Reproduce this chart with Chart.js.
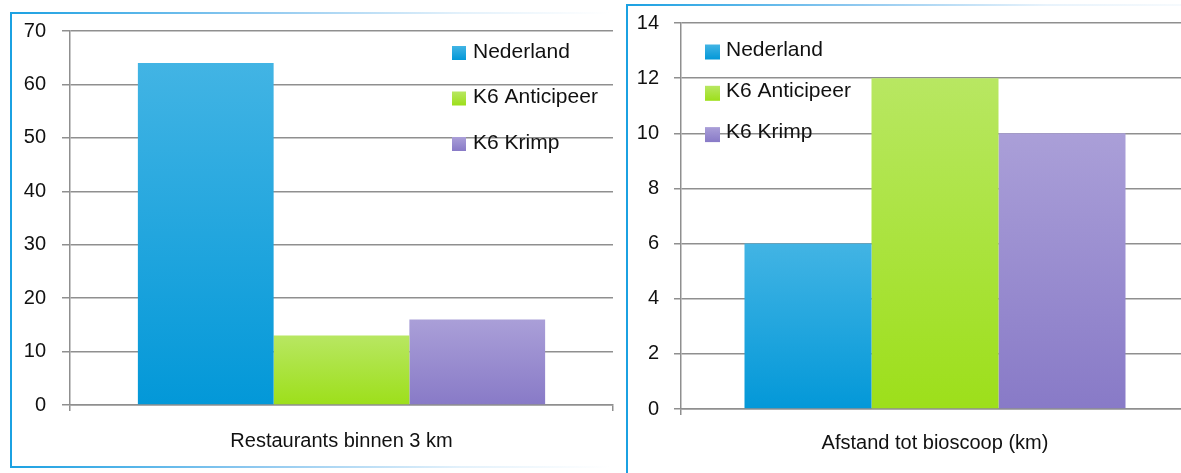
<!DOCTYPE html>
<html>
<head>
<meta charset="utf-8">
<script src="https://cdn.jsdelivr.net/npm/chart.js@4.4.1/dist/chart.umd.min.js"></script>
<style>
  html, body { margin: 0; padding: 0; background: #fff; }
  body { width: 1181px; height: 473px; overflow: hidden; position: relative; }
  canvas { position: absolute; }
  .bl { position: absolute; background: #1ba1e2; }
  .bt { position: absolute; }
</style>
</head>
<body>
<!-- panel borders -->
<div class="bl" style="left:10px; top:12px; width:2px; height:456px;"></div>
<div class="bt" style="left:10px; top:12px; width:600px; height:2px; background:linear-gradient(to right,#1ba1e2 0%,#8cc7ef 40%,#e3f1fb 75%,rgba(255,255,255,0) 100%);"></div>
<div class="bt" style="left:10px; top:466px; width:600px; height:2px; background:linear-gradient(to right,#1ba1e2 0%,#8cc7ef 40%,#e3f1fb 75%,rgba(255,255,255,0) 100%);"></div>
<div class="bl" style="left:626px; top:4px; width:2px; height:469px;"></div>
<div class="bt" style="left:626px; top:4px; width:560px; height:2px; background:linear-gradient(to right,#1ba1e2 0%,#8cc7ef 40%,#e8f3fc 75%,#f6fafd 100%);"></div>

<canvas id="left" width="608" height="452" style="left:12px; top:14px;"></canvas>
<canvas id="right" width="567" height="467" style="left:629px; top:6px;"></canvas>

<script>
// ---------- data ----------
const seriesLabels = ['Nederland', 'K6 Anticipeer', 'K6 Krimp'];
const leftCategories = ['Restaurants binnen 3 km'];
const leftValues = [64, 13, 16];
const leftTicks = [0, 10, 20, 30, 40, 50, 60, 70];
const rightCategories = ['Afstand tot bioscoop (km)'];
const rightValues = [6, 12, 10];
const rightTicks = [0, 2, 4, 6, 8, 10, 12, 14];

// ---------- styles ----------
const colorTop = ['#42b4e4', '#b8e762', '#aa9fd8'];
const colorBottom = ['#0398d8', '#9ddf1a', '#887ac7'];
const gridColor = '#8f8f8f';
const FONT = 'Liberation Sans';

Chart.defaults.font.family = FONT;
Chart.defaults.color = '#000';
Chart.defaults.animation = false;

function barGradient(idx) {
  return function (ctx) {
    const chart = ctx.chart;
    const ys = chart.scales.y;
    if (!ys || ctx.raw === undefined) return colorBottom[idx];
    const top = ys.getPixelForValue(ctx.raw);
    const base = ys.getPixelForValue(0);
    if (!isFinite(top) || !isFinite(base) || top === base) return colorBottom[idx];
    const g = chart.ctx.createLinearGradient(0, top, 0, base);
    g.addColorStop(0, colorTop[idx]);
    g.addColorStop(1, colorBottom[idx]);
    return g;
  };
}

function legendPlugin(cfg) {
  return {
    id: 'insideLegend',
    afterDatasetsDraw(chart) {
      const c = chart.ctx;
      c.save();
      c.font = cfg.fontSize + 'px "' + FONT + '"';
      c.textBaseline = 'middle';
      c.textAlign = 'left';
      chart.data.datasets.forEach((ds, i) => {
        const cy = cfg.y0 + i * cfg.dy;
        const bx = cfg.x, by = cy - cfg.box / 2 + cfg.boxShift;
        const g = c.createLinearGradient(0, by, 0, by + cfg.box);
        g.addColorStop(0, colorTop[i]);
        g.addColorStop(1, colorBottom[i]);
        c.fillStyle = g;
        c.fillRect(bx, by, cfg.box, cfg.box);
        c.fillStyle = '#111';
        c.fillText(ds.label, cfg.textX, cy);
      });
      c.restore();
    }
  };
}

function makeChart(id, categories, values, ticks, o) {
  const datasets = seriesLabels.map((lab, i) => ({
    label: lab,
    data: [values[i]],
    backgroundColor: barGradient(i),
    borderWidth: 0,
    categoryPercentage: 0.75,
    barPercentage: 1.0
  }));
  return new Chart(document.getElementById(id), {
    type: 'bar',
    data: { labels: categories, datasets },
    options: {
      responsive: false,
      devicePixelRatio: 1,
      layout: { padding: { left: 0, right: o.padRight, top: o.padTop, bottom: 0 } },
      plugins: { legend: { display: false }, tooltip: { enabled: false } },
      scales: {
        x: {
          offset: true,
          grid: { display: true, drawOnChartArea: false, offset: true, tickLength: 6, color: gridColor, lineWidth: 1.5 },
          border: { display: true, color: gridColor, width: 1.5 },
          ticks: { padding: o.xPad, font: { size: o.xFont }, color: '#111' },
          afterFit(s) { s.height = o.xHeight; s.paddingLeft = 0; s.paddingRight = 0; }
        },
        y: {
          min: ticks[0],
          max: ticks[ticks.length - 1],
          afterBuildTicks(s) { s.ticks = ticks.map(v => ({ value: v })); },
          grid: { color: gridColor, lineWidth: 1.5, tickLength: o.tickLen },
          border: { display: true, color: gridColor, width: 1.5 },
          ticks: { padding: o.yPad, font: { size: o.yFont }, color: '#111' },
          afterFit(s) { s.width = o.yWidth; s.paddingTop = 0; s.paddingBottom = 0; }
        }
      }
    },
    plugins: [legendPlugin(o.legend)]
  });
}

// Left chart: canvas at (12,14)
makeChart('left', leftCategories, leftValues, leftTicks, {
  padRight: 7, padTop: 17, xHeight: 61, yWidth: 58, tickLen: 8, yPad: 16,
  xPad: 18, xFont: 20, yFont: 20,
  legend: { x: 440, textX: 461, y0: 38, dy: 45.5, box: 14, boxShift: 1, fontSize: 21 }
});

// Right chart: canvas at (629,6)
makeChart('right', rightCategories, rightValues, rightTicks, {
  padRight: 7, padTop: 17, xHeight: 64, yWidth: 52, tickLen: 7, yPad: 15,
  xPad: 16, xFont: 20, yFont: 20,
  legend: { x: 76, textX: 97, y0: 44, dy: 41.3, box: 15, boxShift: 2, fontSize: 21 }
});
</script>
</body>
</html>
